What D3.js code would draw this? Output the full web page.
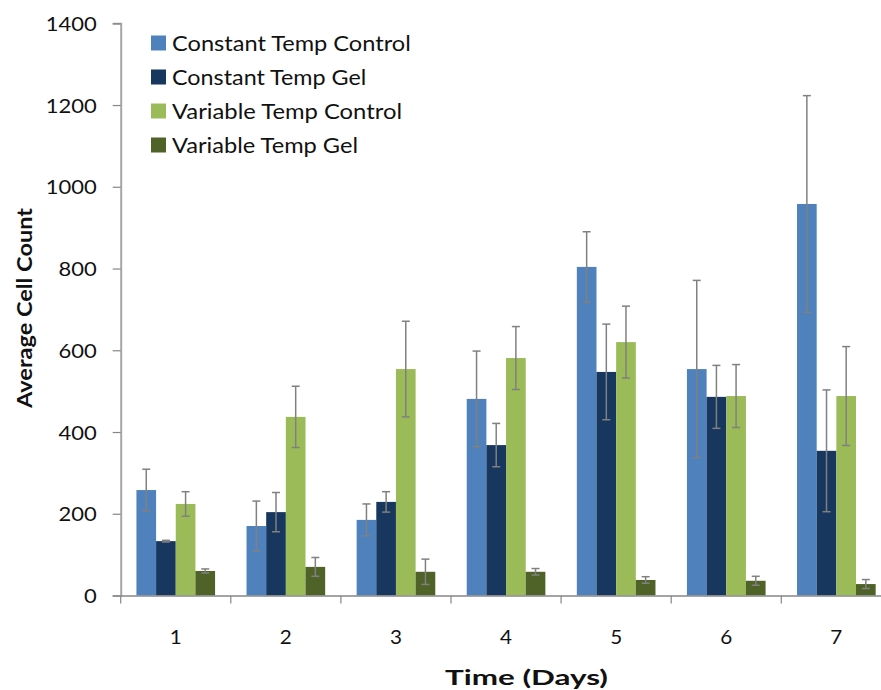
<!DOCTYPE html>
<html>
<head>
<meta charset="utf-8">
<script src="https://cdn.jsdelivr.net/npm/d3@7/dist/d3.min.js"></script>
<style>
  html, body { margin: 0; padding: 0; background: #fff; }
  svg { display: block; }
  text { font-family: Lato, "Open Sans", sans-serif; fill: #111; }
</style>
</head>
<body>
<svg id="chart" width="881" height="690"></svg>
<script>
// ---- data ----
const days = ["1", "2", "3", "4", "5", "6", "7"];
const seriesNames = ["Constant Temp Control", "Constant Temp Gel", "Variable Temp Control", "Variable Temp Gel"];
const seriesColors = ["#4F81BD", "#17375E", "#9BBB59", "#4F6228"];
const constTempControl = [258, 170, 185, 481, 804, 554, 958];
const constTempControlErr = [51, 61, 39, 117, 86, 217, 265];
const constTempGel = [133, 204, 229, 368, 547, 486, 354];
const constTempGelErr = [2, 48, 25, 53, 117, 77, 149];
const varTempControl = [224, 437, 554, 581, 620, 488, 488];
const varTempControlErr = [30, 75, 117, 77, 88, 77, 121];
const varTempGel = [60, 70, 58, 58, 38, 36, 28];
const varTempGelErr = [5, 23, 31, 8, 8, 11, 11];
const yTicks = [0, 200, 400, 600, 800, 1000, 1200, 1400];
const yTitle = "Average Cell Count";
const xTitle = "Time (Days)";

const values = [constTempControl, constTempGel, varTempControl, varTempGel];
const errors = [constTempControlErr, constTempGelErr, varTempControlErr, varTempGelErr];

const rows = [];
days.forEach((d, i) => {
  seriesNames.forEach((s, j) => {
    rows.push({ day: d, series: s, value: values[j][i], err: errors[j][i], color: seriesColors[j] });
  });
});

// ---- layout ----
const svg = d3.select("#chart");
const plotLeft = 120.7, plotBottom = 595.5, plotTop = 23.3, step = 110.1;
const x0 = d3.scaleBand().domain(days).range([plotLeft, plotLeft + step * days.length]).padding(0);
const x1 = d3.scaleBand().domain(seriesNames).range([0, x0.bandwidth()]).paddingInner(0).paddingOuter(0.8);
const y = d3.scaleLinear().domain([0, 1400]).range([plotBottom, plotTop]);
const color = d3.scaleOrdinal().domain(seriesNames).range(seriesColors);

// bars
const g = svg.append("g");
g.selectAll("rect.bar").data(rows).join("rect")
  .attr("class", "bar")
  .attr("x", d => x0(d.day) + x1(d.series))
  .attr("y", d => y(d.value))
  .attr("width", x1.bandwidth())
  .attr("height", d => y(0) - y(d.value))
  .attr("fill", d => color(d.series));

// error bars
const eb = g.selectAll("g.err").data(rows).join("g").attr("class", "err")
  .attr("transform", d => `translate(${x0(d.day) + x1(d.series) + x1.bandwidth() / 2},0)`);
eb.append("line").attr("x1", 0).attr("x2", 0)
  .attr("y1", d => y(d.value + d.err)).attr("y2", d => y(Math.max(0, d.value - d.err)))
  .attr("stroke", "#808080").attr("stroke-width", 1.5);
eb.append("line").attr("x1", -4).attr("x2", 4)
  .attr("y1", d => y(d.value + d.err)).attr("y2", d => y(d.value + d.err))
  .attr("stroke", "#808080").attr("stroke-width", 1.5);
eb.append("line").attr("x1", -4).attr("x2", 4)
  .attr("y1", d => y(Math.max(0, d.value - d.err))).attr("y2", d => y(Math.max(0, d.value - d.err)))
  .attr("stroke", "#808080").attr("stroke-width", 1.5);

// y axis
const yAxis = svg.append("g").attr("transform", `translate(${plotLeft},0)`)
  .call(d3.axisLeft(y).tickValues(yTicks).tickSize(8).tickPadding(16).tickFormat(d3.format("d")));
yAxis.select(".domain").attr("stroke", "#A6A6A6").attr("stroke-width", 2);
yAxis.selectAll(".tick line").attr("stroke", "#868686").attr("stroke-width", 1.2);
yAxis.selectAll(".tick text")
  .attr("font-size", 20).attr("font-family", "Lato, sans-serif").attr("fill", "#111")
  .attr("dy", "0.36em")
  .attr("textLength", d => String(d).length * 12.75)
  .attr("lengthAdjust", "spacingAndGlyphs");

// x axis
const xAxis = svg.append("g").attr("transform", `translate(0,${plotBottom})`)
  .call(d3.axisBottom(x0).tickSize(0).tickPadding(0));
xAxis.select(".domain").attr("stroke", "#868686").attr("stroke-width", 1.5);
xAxis.selectAll(".tick text")
  .attr("font-size", 20).attr("font-family", "Lato, sans-serif").attr("fill", "#111")
  .attr("y", 48).attr("dy", 0)
  .attr("textLength", 12)
  .attr("lengthAdjust", "spacingAndGlyphs");
const bounds = days.map(d => x0(d)).concat([x0(days[days.length - 1]) + x0.bandwidth()]);
xAxis.selectAll("line.bound").data(bounds).join("line").attr("class", "bound")
  .attr("x1", d => d).attr("x2", d => d).attr("y1", 0).attr("y2", 8)
  .attr("stroke", "#868686").attr("stroke-width", 1.2);

// axis titles
svg.append("text")
  .attr("transform", `translate(32,308) rotate(-90)`)
  .attr("text-anchor", "middle").attr("font-weight", "bold").attr("font-size", 21)
  .attr("textLength", 200).attr("lengthAdjust", "spacingAndGlyphs")
  .text(yTitle);
svg.append("text")
  .attr("x", 526.5).attr("y", 685)
  .attr("text-anchor", "middle").attr("font-weight", "bold").attr("font-size", 21)
  .attr("textLength", 163).attr("lengthAdjust", "spacingAndGlyphs")
  .text(xTitle);

// legend
const legendWidths = [238.7, 194.3, 230, 186];
const lg = svg.append("g").selectAll("g").data(seriesNames).join("g")
  .attr("transform", (d, i) => `translate(151,${43 + i * 34})`);
lg.append("rect").attr("x", 0).attr("y", -7.5).attr("width", 15).attr("height", 15)
  .attr("fill", d => color(d));
lg.append("text").attr("x", 21).attr("y", 0).attr("dy", "0.36em")
  .attr("font-size", 21)
  .attr("textLength", (d, i) => legendWidths[i]).attr("lengthAdjust", "spacingAndGlyphs")
  .text(d => d);
</script>
</body>
</html>
